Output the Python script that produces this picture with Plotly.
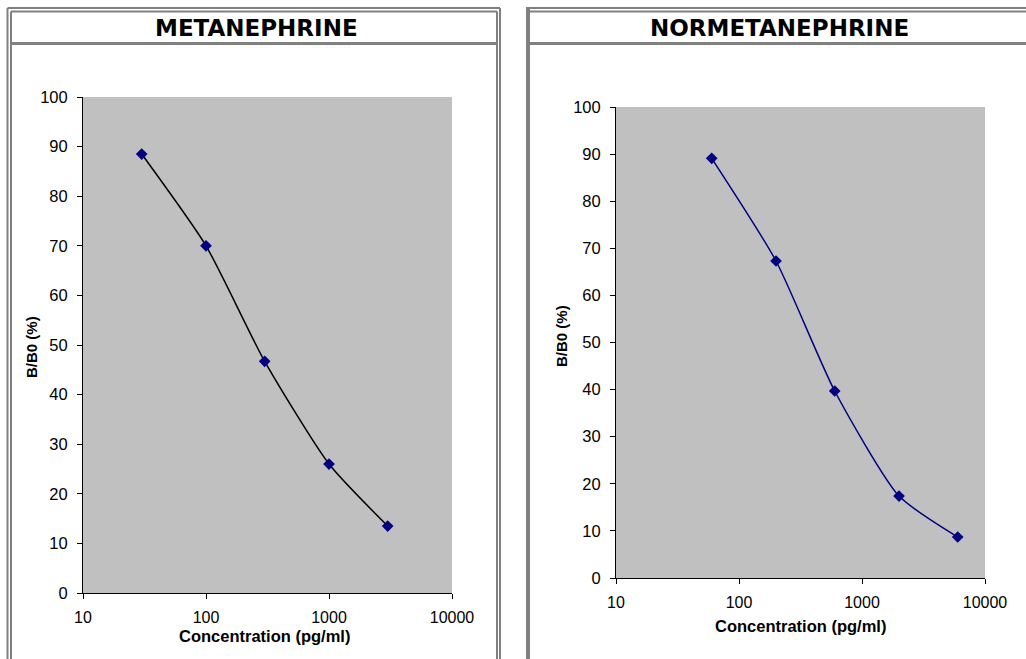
import plotly.graph_objects as go

W, H = 1026, 659

# Data
titles = ["METANEPHRINE", "NORMETANEPHRINE"]
met_conc = [30, 100, 300, 1000, 3000]
met_bb0 = [88.5, 70.0, 46.7, 26.0, 13.5]
nor_conc = [60, 200, 600, 2000, 6000]
nor_bb0 = [89.1, 67.3, 39.7, 17.4, 8.7]
x_ticks = [10, 100, 1000, 10000]
x_ticktext = ["10", "100", "1000", "10000"]
y_ticks = list(range(0, 101, 10))
x_title = "Concentration (pg/ml)"
y_title = "B/B0 (%)"


def px(x):
    return x / W


def py(y):
    return 1 - y / H


fig = go.Figure()
fig.add_trace(go.Scatter(
    x=met_conc, y=met_bb0, mode="lines+markers",
    line=dict(color="black", width=1.5, shape="spline", smoothing=0.6),
    marker=dict(symbol="diamond", size=9, color="#000080"),
    xaxis="x", yaxis="y", showlegend=False))
fig.add_trace(go.Scatter(
    x=nor_conc, y=nor_bb0, mode="lines+markers",
    line=dict(color="#000080", width=1.5, shape="spline", smoothing=0.6),
    marker=dict(symbol="diamond", size=9, color="#000080"),
    xaxis="x2", yaxis="y2", showlegend=False))

xtickfont = dict(family="Arial, Liberation Sans", size=16, color="black")
ytickfont = dict(family="Arial, Liberation Sans", size=16.5, color="black")
xcommon = dict(type="log", range=[1, 4], tickvals=x_ticks, ticktext=x_ticktext,
               showgrid=False, zeroline=False, showline=True, linecolor="black",
               linewidth=1, ticks="outside", ticklen=5, tickcolor="black",
               tickfont=xtickfont, ticklabelstandoff=5, automargin=False)
ycommon = dict(range=[0, 100], tickvals=y_ticks, showgrid=False, zeroline=False,
               showline=True, linecolor="black", linewidth=1, ticks="outside",
               ticklen=5, tickcolor="black", tickfont=ytickfont, ticklabelstandoff=6,
               automargin=False)

fig.update_layout(
    width=W, height=H, margin=dict(l=0, r=0, t=0, b=0, pad=0, autoexpand=False),
    paper_bgcolor="white", plot_bgcolor="#C0C0C0",
    xaxis=dict(domain=[px(83), px(452)], anchor="y", **xcommon),
    yaxis=dict(domain=[py(593), py(97)], anchor="x", **ycommon),
    xaxis2=dict(domain=[px(616), px(985)], anchor="y2", **xcommon),
    yaxis2=dict(domain=[py(578), py(107)], anchor="x2", **ycommon),
)

gray = "#808080"
shapes = []


def line(x0, y0, x1, y1, w):
    shapes.append(dict(type="line", xref="paper", yref="paper",
                       x0=px(x0), y0=py(y0), x1=px(x1), y1=py(y1),
                       line=dict(color=gray, width=w)))


# Left panel double border
line(7.5, 8, 7.5, 659, 2)
line(7.5, 8, 500, 8, 2)
line(500, 8, 500, 659, 2)
line(11, 11.5, 11, 659, 2)
line(11, 11.5, 497, 11.5, 2)
line(497, 11.5, 497, 659, 2)
line(11, 43.5, 497, 43.5, 3)
# Right panel border
line(528, 8, 528, 659, 4)
line(526, 8, 1026, 8, 2)
line(530, 11.5, 1026, 11.5, 2)
line(530, 43.5, 1026, 43.5, 3)

fig.update_layout(shapes=shapes)

titlefont = dict(family="Verdana, DejaVu Sans", size=23, color="black")
xtfont = dict(family="Arial, Liberation Sans", size=16.5, color="black")
ytfont = dict(family="Arial, Liberation Sans", size=15, color="black")
ann = [
    dict(text="<b>%s</b>" % titles[0], x=px(256), y=py(28), font=titlefont),
    dict(text="<b>%s</b>" % titles[1], x=px(779), y=py(28), font=titlefont),
    dict(text="<b>%s</b>" % x_title, x=px(264), y=py(636), font=xtfont),
    dict(text="<b>%s</b>" % x_title, x=px(800), y=py(626), font=xtfont),
    dict(text="<b>%s</b>" % y_title, x=px(31), y=py(347), font=ytfont, textangle=-90),
    dict(text="<b>%s</b>" % y_title, x=px(561), y=py(336), font=ytfont, textangle=-90),
]
for a in ann:
    a.update(xref="paper", yref="paper", showarrow=False, xanchor="center", yanchor="middle")
fig.update_layout(annotations=ann)

fig.write_html("out.html", config={"displayModeBar": False},
               post_script="document.body.style.margin='0';document.body.style.overflow='hidden';")
